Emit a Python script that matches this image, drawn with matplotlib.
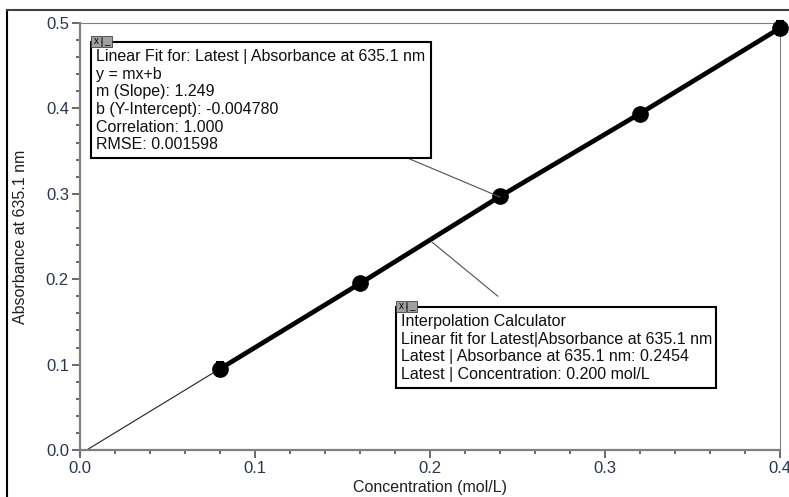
import numpy as np
import matplotlib
matplotlib.use('Agg')
import matplotlib.pyplot as plt
from matplotlib.lines import Line2D
from matplotlib.patches import Rectangle
from matplotlib.transforms import ScaledTranslation
from matplotlib.ticker import MultipleLocator, FormatStrFormatter

plt.rcParams['font.family'] = ['Liberation Sans', 'DejaVu Sans']

# data
conc = [0.08, 0.16, 0.24, 0.32, 0.40]
absorb = [0.095, 0.195, 0.297, 0.394, 0.494]
abs_err = [0.008, 0.004, 0.004, 0.004, 0.008]
slope = 1.249
intercept = -0.004780
interp_conc = 0.200
interp_abs = 0.2454

fit_lines = ['Linear Fit for: Latest | Absorbance at 635.1 nm',
             'y = mx+b',
             'm (Slope): 1.249',
             'b (Y-Intercept): -0.004780',
             'Correlation: 1.000',
             'RMSE: 0.001598']
interp_lines = ['Interpolation Calculator',
                'Linear fit for Latest|Absorbance at 635.1 nm',
                'Latest | Absorbance at 635.1 nm: 0.2454',
                'Latest | Concentration: 0.200 mol/L']

tickcol = '#2a3550'
spinecol = '#808080'

fig = plt.figure(figsize=(7.89, 4.97), dpi=100)
ax = fig.add_axes([80/789., 1 - 450/497., 700/789., 427/497.])

# fit line (thin) from y=0 to the end
x0 = -intercept / slope
xf = np.array([x0, 0.4])
ax.plot(xf, slope * xf + intercept, color='#202020', lw=0.8, zorder=2)
# data line (thick) with markers
ax.errorbar(conc, absorb, yerr=abs_err, color='black', lw=3.4, marker='o',
            ms=11, capsize=3, elinewidth=1.5, capthick=1.5, zorder=3,
            clip_on=False)

ax.set_xlim(0, 0.4)
ax.set_ylim(0, 0.5)
ax.xaxis.set_major_locator(MultipleLocator(0.1))
ax.xaxis.set_minor_locator(MultipleLocator(0.02))
ax.yaxis.set_major_locator(MultipleLocator(0.1))
ax.yaxis.set_minor_locator(MultipleLocator(0.02))
ax.xaxis.set_major_formatter(FormatStrFormatter('%.1f'))
ax.yaxis.set_major_formatter(FormatStrFormatter('%.1f'))
ax.tick_params(which='major', direction='out', length=6, width=1.2,
               color='#505050', labelsize=12, labelcolor=tickcol, pad=2)
ax.tick_params(which='minor', direction='out', length=3, width=1.2,
               color='#505050')
for s in ax.spines.values():
    s.set_color(spinecol)
ax.spines['left'].set_linewidth(1.6)
ax.spines['bottom'].set_linewidth(1.6)
ax.spines['top'].set_linewidth(0.8)
ax.spines['right'].set_linewidth(0.8)
ax.set_xlabel('Concentration (mol/L)', fontsize=11.5, color='#202020',
              labelpad=3)
ax.set_ylabel('Absorbance at 635.1 nm', fontsize=11.5, color='#202020',
              labelpad=13)

# nudge the last x tick label so it stays inside the picture
fig.canvas.draw()
last = ax.get_xticklabels()[-1]
last.set_transform(last.get_transform() +
                   ScaledTranslation(-3 / 100., 0, fig.dpi_scale_trans))


def px(x, y):
    return (x / 789., 1 - y / 497.)


def note_box(left, top, right, bottom, lines):
    r = Rectangle(px(left, bottom), (right - left) / 789.,
                  (bottom - top) / 497., transform=fig.transFigure,
                  facecolor='white', edgecolor='black', lw=1.5, zorder=10)
    fig.add_artist(r)
    for i, c in enumerate(['x', '_']):
        ix = left + i * 11
        ib = Rectangle(px(ix, top + 5), 10 / 789., 11 / 497.,
                       transform=fig.transFigure, facecolor='#a0a0a0',
                       edgecolor='#404040', lw=0.6, zorder=11)
        fig.add_artist(ib)
        fig.text(*px(ix + 5, top - 1), c, fontsize=7, ha='center',
                 va='center', zorder=12)
    fig.text(*px(left + 5, top + 7), '\n'.join(lines), fontsize=11.5,
             ha='left', va='top', linespacing=1.22, color='#101010',
             zorder=12)


# connectors
fig.add_artist(Line2D([405 / 789., 500 / 789.], [1 - 157 / 497., 1 - 197 / 497.],
                      transform=fig.transFigure, color='#505050', lw=0.8))
ax.annotate('', xy=(interp_conc, interp_abs), xycoords='data',
            xytext=px(500, 298), textcoords='figure fraction',
            arrowprops=dict(arrowstyle='-', color='#505050', lw=0.8))

note_box(91, 42, 431, 158, fit_lines)
note_box(396, 307, 716, 388, interp_lines)

# window frame
fig.add_artist(Line2D([7 / 789., 7 / 789.], [0, 1 - 10 / 497.],
                      transform=fig.transFigure, color='black', lw=1.5))
fig.add_artist(Line2D([7 / 789., 1], [1 - 10 / 497., 1 - 10 / 497.],
                      transform=fig.transFigure, color='#404040', lw=1.5))

fig.savefig('out.png', dpi=100)
